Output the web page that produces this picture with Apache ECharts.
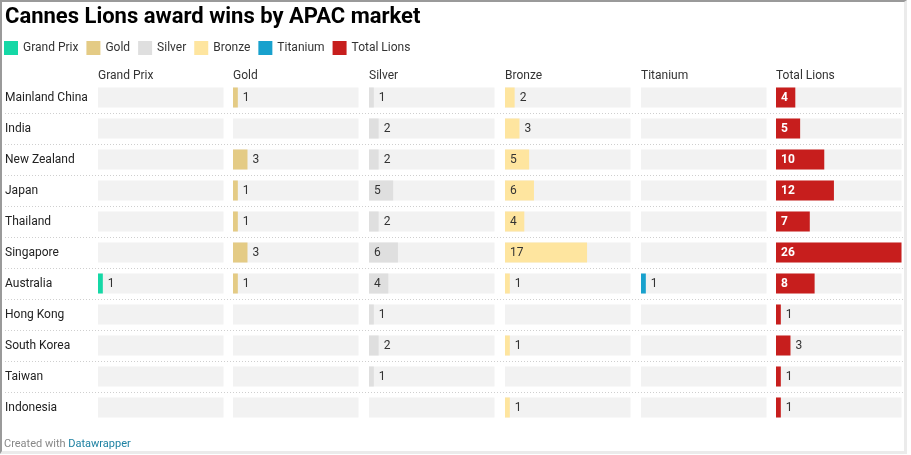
<!DOCTYPE html>
<html>
<head>
<meta charset="utf-8">
<script src="https://cdn.jsdelivr.net/npm/echarts@6/dist/echarts.min.js"></script>
<style>
html,body{margin:0;padding:0;background:#fff;}
#chart{position:absolute;left:0;top:0;width:911px;height:455px;}
#frame{position:absolute;left:0;top:0;width:907px;height:454px;box-sizing:border-box;border-top:2px solid #9a9a9a;border-left:2px solid #9a9a9a;border-right:3px solid #ebebeb;border-bottom:3px solid #ebebeb;pointer-events:none;}
</style>
</head>
<body>
<div id="chart"></div>
<div id="frame"></div>
<script>
const markets = ["Mainland China","India","New Zealand","Japan","Thailand","Singapore","Australia","Hong Kong","South Korea","Taiwan","Indonesia"];
const columns = ["Grand Prix","Gold","Silver","Bronze","Titanium","Total Lions"];
const grandPrix = [0,0,0,0,0,0,1,0,0,0,0];
const gold      = [1,0,3,1,1,3,1,0,0,0,0];
const silver    = [1,2,2,5,2,6,4,1,2,1,0];
const bronze    = [2,3,5,6,4,17,1,0,1,0,1];
const titanium  = [0,0,0,0,0,0,1,0,0,0,0];
const totalLions= [4,5,10,12,7,26,8,1,3,1,1];
const scaleMax = 26;

const colValues = [grandPrix, gold, silver, bronze, titanium, totalLions];
const colColors = ["#15d8a6","#e4cb85","#dfdfdf","#fee59f","#18a1cd","#c71e1d"];
const FONT = "Roboto, 'Noto Sans', sans-serif";

const chart = echarts.init(document.getElementById('chart'), null, {renderer:'canvas'});

const colLeft = [98, 233, 369, 505, 641, 776];
const colWidth = 125.5;
const gridTop = 82, rowH = 31;
const gridH = rowH * markets.length;

const grids = [], xAxes = [], yAxes = [], series = [], titles = [];

titles.push({
  text: "Cannes Lions award wins by APAC market",
  left: 5, top: 6, padding: 0,
  textStyle: {fontFamily: FONT, fontSize: 22, fontWeight: 'bold', color: '#000'}
});
titles.push({
  text: "{a|Created with }{b|Datawrapper}",
  left: 4, top: 439, padding: 0,
  textStyle: {fontFamily: FONT, fontSize: 11, fontWeight: 'normal', rich: {
    a: {fontFamily: FONT, fontSize: 11, fontWeight: 'normal', color: '#888'},
    b: {fontFamily: FONT, fontSize: 11, fontWeight: 'normal', color: '#1d81a2'}
  }}
});

columns.forEach((c, i) => {
  grids.push({left: colLeft[i], top: gridTop, width: colWidth, height: gridH, containLabel: false});
  xAxes.push({type: 'value', gridIndex: i, min: 0, max: scaleMax, show: false});
  yAxes.push({
    type: 'category', gridIndex: i, data: markets, inverse: true,
    axisLine: {show: false}, axisTick: {show: false}, splitLine: {show: false},
    axisLabel: i === 0 ? {show: true, align: 'left', margin: 93, fontFamily: FONT, fontSize: 12, color: '#222'} : {show: false}
  });
  titles.push({
    text: c, left: colLeft[i], top: 70, padding: 0,
    textStyle: {fontFamily: FONT, fontSize: 12, fontWeight: 'normal', color: '#333'}
  });
  const isTotal = i === 5;
  series.push({
    name: c, type: 'bar', xAxisIndex: i, yAxisIndex: i,
    barWidth: 20,
    showBackground: true,
    backgroundStyle: {color: '#f2f2f2'},
    itemStyle: {color: colColors[i]},
    animation: false,
    data: colValues[i].map(v => {
      const inside = v >= 4;
      return {
        value: v,
        label: {
          show: v > 0,
          position: inside ? 'insideLeft' : 'right',
          distance: 5,
          fontFamily: FONT, fontSize: 12,
          color: inside && isTotal ? '#fff' : '#333',
          fontWeight: inside && isTotal ? 'bold' : 'normal'
        }
      };
    })
  });
});

// separator grid (dotted lines between rows)
grids.push({left: 5, right: 6, top: gridTop + rowH, height: rowH * (markets.length - 2)});
xAxes.push({type: 'value', gridIndex: 6, min: 0, max: 1, show: false});
yAxes.push({type: 'value', gridIndex: 6, min: 0, max: markets.length - 2, interval: 1,
  axisLine: {show: false}, axisTick: {show: false}, axisLabel: {show: false},
  splitLine: {show: true, lineStyle: {color: '#cfcfcf', width: 1, type: [1, 2]}}});
series.push({type: 'line', xAxisIndex: 6, yAxisIndex: 6, data: [], silent: true});

chart.setOption({
  backgroundColor: '#fff',
  animation: false,
  title: titles,
  legend: {
    left: 4, top: 41, padding: 0,
    icon: 'rect', itemWidth: 14, itemHeight: 14, itemGap: 8,
    data: columns,
    textStyle: {fontFamily: FONT, fontSize: 12, color: '#333'},
    selectedMode: false
  },
  grid: grids,
  xAxis: xAxes,
  yAxis: yAxes,
  series: series
});
</script>
</body>
</html>
